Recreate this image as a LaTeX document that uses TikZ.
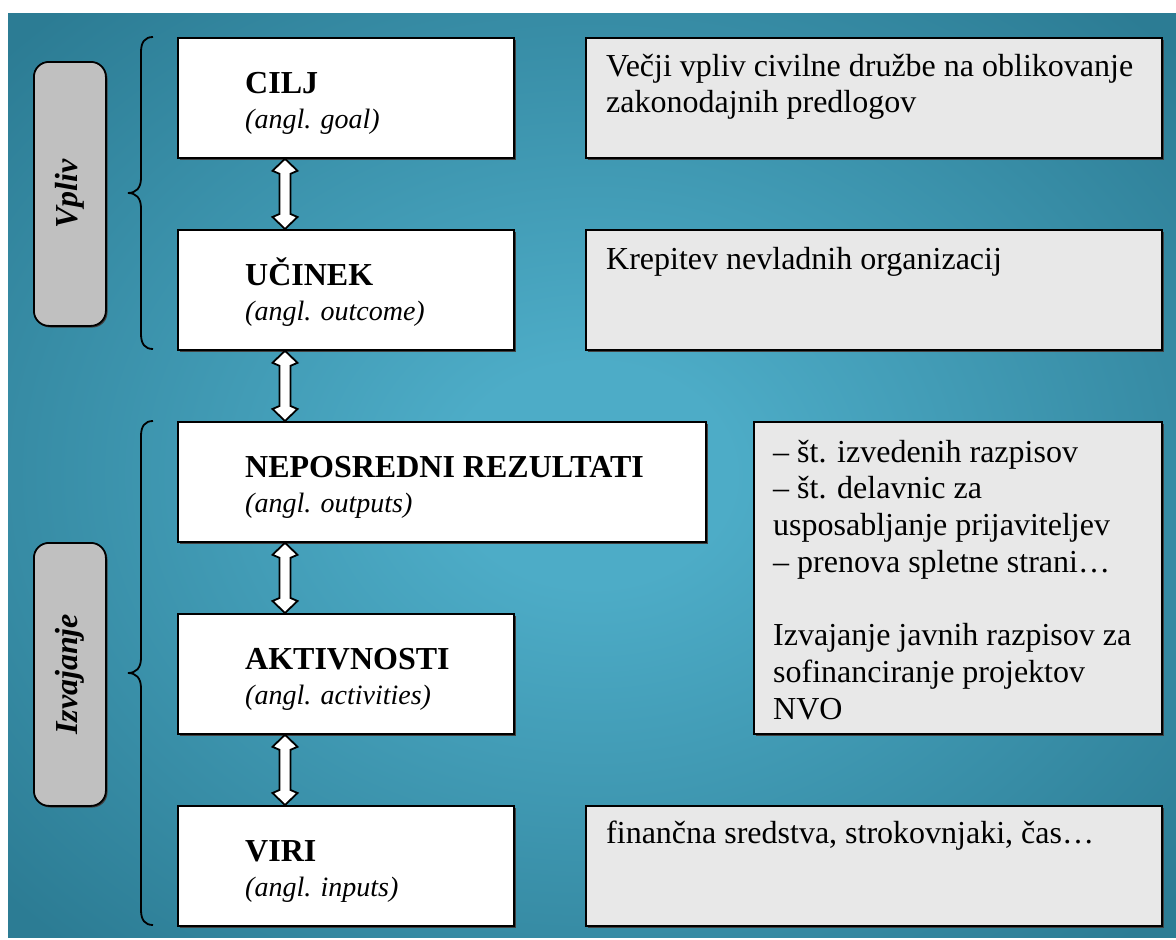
\documentclass[tikz,border=0pt]{standalone}
\usepackage{fontspec}
\setmainfont{Liberation Serif}
\usetikzlibrary{calc,shadows}
\definecolor{bgouter}{RGB}{44,124,148}
\definecolor{bginner}{RGB}{77,172,199}
\definecolor{boxgray}{RGB}{232,232,232}
\definecolor{labgray}{RGB}{192,192,192}
\pgfdeclareradialshading{bgshade}{\pgfpoint{0bp}{0bp}}{color(0bp)=(bginner); color(6bp)=(bginner); color(34bp)=(bgouter); color(50bp)=(bgouter)}
\tikzset{
  shadowed/.style={drop shadow={shadow xshift=1.6pt, shadow yshift=-1.6pt, opacity=1, fill=black!75}},
  mainbox/.style={draw, line width=1.8pt, fill=white, rectangle, inner sep=0pt, shadowed},
  graybox/.style={draw, line width=1.8pt, fill=boxgray, rectangle, inner sep=0pt, shadowed},
  labbox/.style={draw, line width=1.8pt, fill=labgray, rectangle, rounded corners=15pt, inner sep=0pt, minimum width=72pt, shadowed},
  labtext/.style={rotate=90, font=\fontsize{32}{36}\selectfont\bfseries\itshape, inner sep=0pt},
  maintext/.style={anchor=north west, inner sep=0pt, align=left, font=\fontsize{32}{35}\selectfont},
  graytext/.style={anchor=north west, inner sep=0pt, align=left, font=\fontsize{32}{36.7}\selectfont},
  bracestyle/.style={draw, line width=1.8pt},
  arr/.style={draw, line width=1.8pt, fill=white, line join=miter}
}
\newcommand{\blockarrow}[2]{%
  \draw[arr] (#1) -- ($(#1)+(12.5,12)$) -- ($(#1)+(5.5,15)$) -- ($(#2)+(5.5,-15)$) -- ($(#2)+(12.5,-12)$) -- (#2) -- ($(#2)+(-12.5,-12)$) -- ($(#2)+(-5.5,-15)$) -- ($(#1)+(-5.5,15)$) -- ($(#1)+(-12.5,12)$) -- cycle;}
\newcommand{\itl}[1]{{\fontsize{28}{35}\selectfont\itshape #1}}
\begin{document}
\begin{tikzpicture}[x=1pt,y=-1pt]
\useasboundingbox (0,0) rectangle (1176,940);
\fill[white] (0,0) rectangle (1176,940);
\shade[shading=bgshade] (8,13) rectangle (1176,937);

% main boxes
\node[mainbox, anchor=north west, minimum width=336pt, minimum height=120pt] (cilj) at (177,37) {};
\node[mainbox, anchor=north west, minimum width=336pt, minimum height=120pt] (ucinek) at (177,229) {};
\node[mainbox, anchor=north west, minimum width=528pt, minimum height=120pt] (nep) at (177,421) {};
\node[mainbox, anchor=north west, minimum width=336pt, minimum height=120pt] (akt) at (177,613) {};
\node[mainbox, anchor=north west, minimum width=336pt, minimum height=120pt] (viri) at (177,805) {};

% gray boxes
\node[graybox, anchor=north west, minimum width=576pt, minimum height=120pt] (g1) at (585,37) {};
\node[graybox, anchor=north west, minimum width=576pt, minimum height=120pt] (g2) at (585,229) {};
\node[graybox, anchor=north west, minimum width=408pt, minimum height=312pt] (g3) at (753,421) {};
\node[graybox, anchor=north west, minimum width=576pt, minimum height=120pt] (g4) at (585,805) {};

% label boxes
\node[labbox, anchor=north west, minimum height=264pt] (lvpliv) at (33,61) {};
\node[labbox, anchor=north west, minimum height=263pt] (lizv) at (33,542) {};
\node[labtext] (tvpliv) at (lvpliv.center) {Vpliv};
\node[labtext] (tizv) at (lizv.center) {Izvajanje};

% braces
\draw[bracestyle] (153,37) .. controls (145,37) and (141,42) .. (141,52) -- (141,178) .. controls (141,188) and (136,193) .. (128,193) .. controls (136,193) and (141,198) .. (141,208) -- (141,334) .. controls (141,344) and (145,349) .. (153,349);
\draw[bracestyle] (153,421) .. controls (145,421) and (141,426) .. (141,436) -- (141,658) .. controls (141,668) and (136,673) .. (128,673) .. controls (136,673) and (141,678) .. (141,688) -- (141,910) .. controls (141,920) and (145,925) .. (153,925);

% texts in main boxes
\node[maintext] (tcilj) at ($(cilj.north west)+(68,26)$) {\rule{0pt}{30pt}\textbf{CILJ}\\\itl{(angl. goal)}};
\node[maintext] (tucinek) at ($(ucinek.north west)+(68,26)$) {\rule{0pt}{30pt}\textbf{UČINEK}\\\itl{(angl. outcome)}};
\node[maintext] (tnep) at ($(nep.north west)+(68,26)$) {\rule{0pt}{30pt}\textbf{NEPOSREDNI REZULTATI}\\\itl{(angl. outputs)}};
\node[maintext] (takt) at ($(akt.north west)+(68,26)$) {\rule{0pt}{30pt}\textbf{AKTIVNOSTI}\\\itl{(angl. activities)}};
\node[maintext] (tviri) at ($(viri.north west)+(68,26)$) {\rule{0pt}{30pt}\textbf{VIRI}\\\itl{(angl. inputs)}};

% texts in gray boxes
\node[graytext] (tg1) at ($(g1.north west)+(21,9)$) {\rule{0pt}{30pt}Večji vpliv civilne družbe na oblikovanje\\zakonodajnih predlogov};
\node[graytext] (tg2) at ($(g2.north west)+(21,10)$) {\rule{0pt}{30pt}Krepitev nevladnih organizacij};
\node[graytext] (tg3) at ($(g3.north west)+(20,11)$) {\rule{0pt}{30pt}– št. izvedenih razpisov\\– št. delavnic za\\usposabljanje prijaviteljev\\– prenova spletne strani…\\[36.7pt]Izvajanje javnih razpisov za\\sofinanciranje projektov\\NVO};
\node[graytext] (tg4) at ($(g4.north west)+(21,8)$) {\rule{0pt}{30pt}finančna sredstva, strokovnjaki, čas…};

% arrows
\coordinate (ax) at (285,0);
\coordinate (a1t) at (cilj.south -| ax);
\coordinate (a1b) at (ucinek.north -| ax);
\coordinate (a2t) at (ucinek.south -| ax);
\coordinate (a2b) at (nep.north -| ax);
\coordinate (a3t) at (nep.south -| ax);
\coordinate (a3b) at (akt.north -| ax);
\coordinate (a4t) at (akt.south -| ax);
\coordinate (a4b) at (viri.north -| ax);
\blockarrow{a1t}{a1b}
\blockarrow{a2t}{a2b}
\blockarrow{a3t}{a3b}
\blockarrow{a4t}{a4b}
\end{tikzpicture}
\end{document}
